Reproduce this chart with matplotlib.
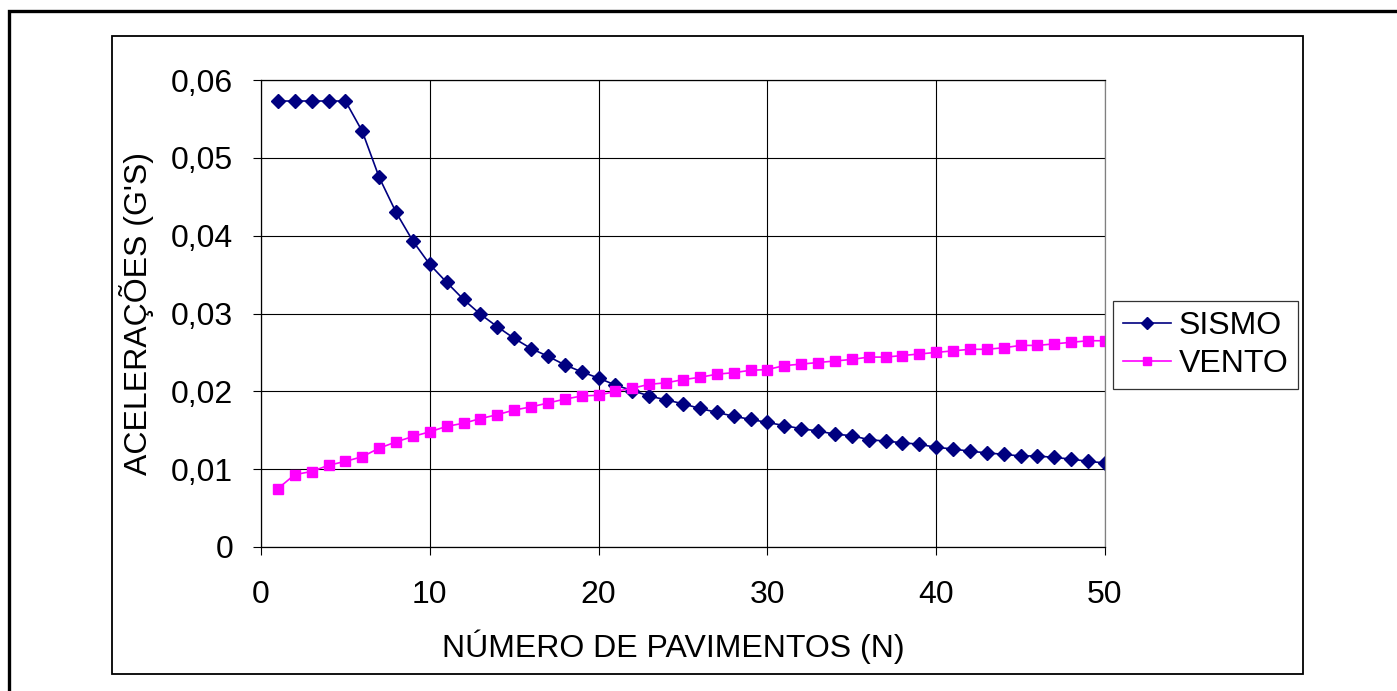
import matplotlib
matplotlib.use('Agg')
import matplotlib.pyplot as plt
from matplotlib.patches import Rectangle
from matplotlib.ticker import FuncFormatter

plt.rcParams['font.family'] = ['Liberation Sans', 'DejaVu Sans']

pavimentos = list(range(1, 51))

sismo = [0.0573, 0.0573, 0.0573, 0.0573, 0.0573, 0.0534, 0.0475, 0.0430, 0.0393, 0.0363,
         0.0340, 0.0318, 0.0299, 0.0283, 0.0268, 0.0255, 0.0245, 0.0234, 0.0225, 0.0217,
         0.0208, 0.0201, 0.0194, 0.0189, 0.0184, 0.0178, 0.0173, 0.0168, 0.0164, 0.0160,
         0.0156, 0.0152, 0.0149, 0.0145, 0.0143, 0.0138, 0.0136, 0.0134, 0.0132, 0.0128,
         0.0126, 0.0123, 0.0121, 0.0119, 0.0117, 0.0117, 0.0115, 0.0113, 0.0110, 0.0108]

vento = [0.0075, 0.0093, 0.0097, 0.0105, 0.0110, 0.0116, 0.0127, 0.0135, 0.0142, 0.0148,
         0.0155, 0.0159, 0.0165, 0.0170, 0.0176, 0.0180, 0.0185, 0.0190, 0.0194, 0.0195,
         0.0200, 0.0204, 0.0209, 0.0211, 0.0215, 0.0218, 0.0222, 0.0224, 0.0227, 0.0228,
         0.0233, 0.0235, 0.0237, 0.0239, 0.0241, 0.0244, 0.0244, 0.0246, 0.0248, 0.0250,
         0.0252, 0.0254, 0.0254, 0.0256, 0.0259, 0.0259, 0.0261, 0.0263, 0.0265, 0.0265]

W, H = 1397, 691
fig = plt.figure(figsize=(W / 100, H / 100), dpi=100)

# molduras (externa e do gráfico)
fig.patches.append(Rectangle((9 / W, -0.05), 1.1, (H - 11) / H + 0.05, transform=fig.transFigure,
                             fill=False, edgecolor='black', linewidth=2.4))
fig.patches.append(Rectangle((112 / W, (H - 674) / H), (1303 - 112) / W, (674 - 36) / H,
                             transform=fig.transFigure, fill=False, edgecolor='black', linewidth=1.3))

ax = fig.add_axes([261 / W, (H - 547) / H, (1105 - 261) / W, (547 - 80) / H])

ax.plot(pavimentos, sismo, color='#000080', marker='D', markersize=7.5, linewidth=1.2, label='SISMO')
ax.plot(pavimentos, vento, color='#FF00FF', marker='s', markersize=7.5, linewidth=1.2, label='VENTO')

ax.set_xlim(0, 50)
ax.set_ylim(0, 0.06)
ax.set_xticks([0, 10, 20, 30, 40, 50])
ax.set_yticks([0, 0.01, 0.02, 0.03, 0.04, 0.05, 0.06])
ax.yaxis.set_major_formatter(FuncFormatter(lambda v, p: '0' if v == 0 else f'{v:.2f}'.replace('.', ',')))
ax.grid(True, color='black', linewidth=0.8)
ax.tick_params(axis='both', labelsize=23, length=6, width=0.8, direction='out')
ax.tick_params(axis='y', pad=14)
ax.tick_params(axis='x', pad=18)
for s in ax.spines.values():
    s.set_linewidth(0.9)
ax.spines['right'].set_color('#808080')

ax.set_xlabel('NÚMERO DE PAVIMENTOS (N)', fontsize=23, labelpad=14)
ax.xaxis.label.set_x(0.489)
ax.set_ylabel("ACELERAÇÕES (G'S)", fontsize=23, labelpad=12)

leg = ax.legend(loc='center left', bbox_to_anchor=(1113 / W, (H - 345) / H),
                bbox_transform=fig.transFigure, fontsize=23, frameon=True, fancybox=False,
                edgecolor='black', borderpad=0.3, handlelength=1.5, handletextpad=0.25,
                labelspacing=0.25, borderaxespad=0)
leg.get_frame().set_linewidth(0.9)
for h in leg.legend_handles:
    h.set_markersize(6)

fig.savefig('out.png', dpi=100)
